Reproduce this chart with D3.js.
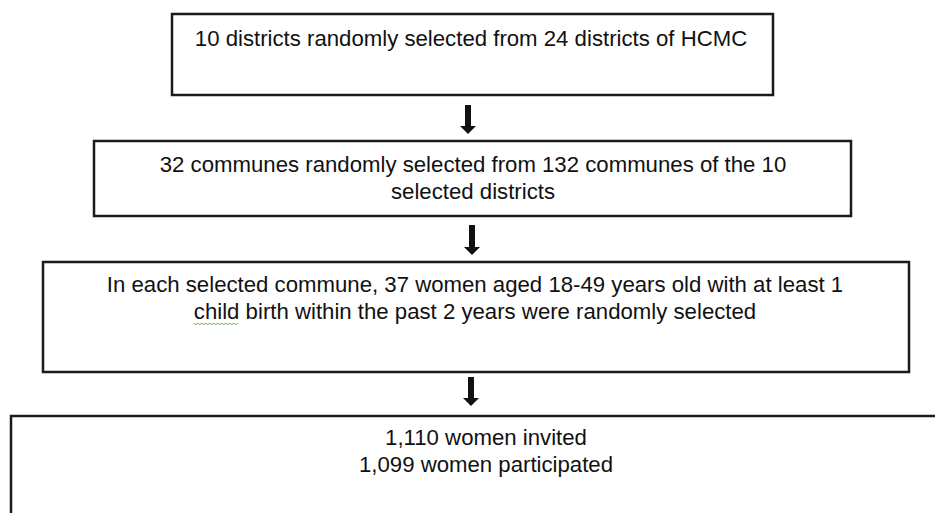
<!DOCTYPE html>
<html>
<head>
<meta charset="utf-8">
<script src="https://cdn.jsdelivr.net/npm/d3@7"></script>
<style>
  body { margin: 0; background: #fff; }
  svg { display: block; }
  .step { font-family: "Liberation Sans", Arial, sans-serif; font-size: 22.2px; fill: #111; }
</style>
</head>
<body>
<div id="container"></div>
<script>
// step texts, one array of lines per box
const steps = [
  ['10 districts randomly selected from 24 districts of HCMC'],
  ['32 communes randomly selected from 132 communes of the 10', 'selected districts'],
  ['In each selected commune, 37 women aged 18-49 years old with at least 1',
   'child birth within the past 2 years were randomly selected'],
  ['1,110 women invited', '1,099 women participated']
]

const w = 935
const h = 513

//box layout (x0, y0, x1, y1, text centre, first baseline)
const boxes = [
  {x0: 172, y0: 14, x1: 773, y1: 95, cx: 471, ty: 46},
  {x0: 94, y0: 141, x1: 851, y1: 216, cx: 473, ty: 172},
  {x0: 43, y0: 262, x1: 909, y1: 372, cx: 475, ty: 292},
  {x0: 11, y0: 416, x1: 945, y1: 530, cx: 486, ty: 445}
]

// arrows between boxes
const arrows = [
  {x: 468, y0: 105, y1: 134},
  {x: 472, y0: 225, y1: 255},
  {x: 471, y0: 377, y1: 406}
]

const svg = d3.select('#container')
  .append('svg')
  .attr('width', w)
  .attr('height', h)

svg.selectAll('rect.box')
  .data(boxes)
  .enter()
  .append('rect')
  .attr('class', 'box')
  .attr('x', d => d.x0)
  .attr('y', d => d.y0)
  .attr('width', d => d.x1 - d.x0)
  .attr('height', d => d.y1 - d.y0)
  .style('fill', 'white')
  .style('stroke', '#1a1a1a')
  .style('stroke-width', 2.5)

const lineH = 26.5

svg.selectAll('g.step')
  .data(steps)
  .enter()
  .append('g')
  .attr('class', 'step')
  .each(function (lines, i) {
    const b = boxes[i]
    d3.select(this).selectAll('text')
      .data(lines)
      .enter()
      .append('text')
      .attr('class', 'step')
      .attr('x', b.cx)
      .attr('y', (d, j) => b.ty + j * lineH)
      .attr('text-anchor', 'middle')
      .text(d => d)
  })

//arrows: shaft + head
arrows.forEach(a => {
  const headH = 8
  svg.append('rect')
    .attr('x', a.x - 3)
    .attr('y', a.y0)
    .attr('width', 6)
    .attr('height', a.y1 - a.y0 - headH + 1)
    .style('fill', '#111')
  svg.append('path')
    .attr('d', `M${a.x - 8},${a.y1 - headH} L${a.x + 8},${a.y1 - headH} L${a.x},${a.y1} Z`)
    .style('fill', '#111')
})

// spell-check squiggle under "child"
const sq = d3.select(svg.selectAll('g.step').nodes()[2]).selectAll('text').nodes()[1]
const txt = sq.textContent
const start = sq.getStartPositionOfChar(0)
const end = sq.getEndPositionOfChar(txt.indexOf(' ') - 1)
const pts = []
for (let x = start.x, k = 0; x <= end.x; x += 2, k++) {
  pts.push([x, start.y + 5 + (k % 2 ? 1.2 : -0.4)])
}
svg.append('path')
  .attr('d', d3.line()(pts))
  .style('fill', 'none')
  .style('stroke', '#6aa84f')
  .style('stroke-width', 1)
</script>
</body>
</html>
